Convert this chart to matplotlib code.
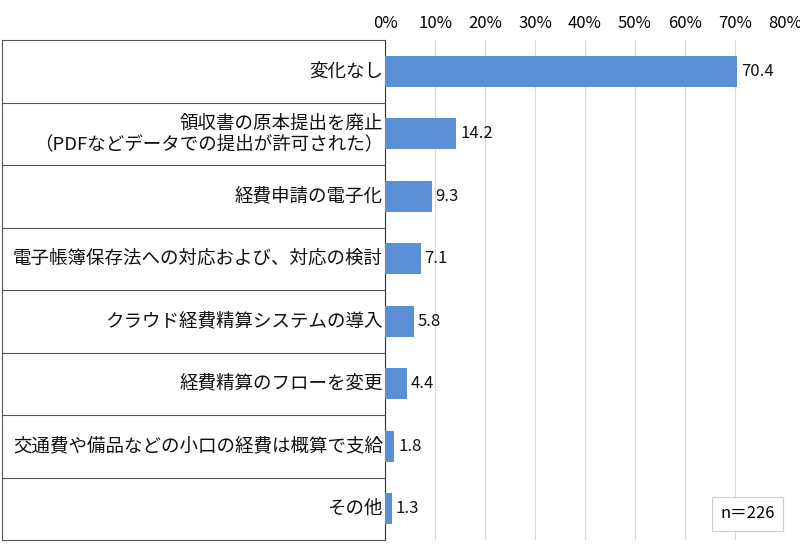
import matplotlib
matplotlib.use("Agg")
import matplotlib.pyplot as plt
from matplotlib.lines import Line2D
from matplotlib.ticker import FuncFormatter

plt.rcParams['font.family'] = ['Noto Sans CJK JP', 'DejaVu Sans']

categories = [
    "変化なし",
    "領収書の原本提出を廃止\n（PDFなどデータでの提出が許可された）",
    "経費申請の電子化",
    "電子帳簿保存法への対応および、対応の検討",
    "クラウド経費精算システムの導入",
    "経費精算のフローを変更",
    "交通費や備品などの小口の経費は概算で支給",
    "その他",
]
values = [70.4, 14.2, 9.3, 7.1, 5.8, 4.4, 1.8, 1.3]
n_label = "n＝226"

fig = plt.figure(figsize=(8, 5.55), dpi=100)
L, R, B, T = 385 / 800, 785 / 800, 1 - 540 / 555, 1 - 40 / 555
ax = fig.add_axes([L, B, R - L, T - B])

ypos = list(range(len(categories)))
ax.barh(ypos, values, height=0.5, color='#5B8FD5', zorder=3)
for y, v in zip(ypos, values):
    ax.text(v + 0.8, y, f"{v:.1f}", va='center', ha='left', fontsize=12, color='#111111')

ax.set_xlim(0, 80)
ax.set_ylim(len(categories) - 0.5, -0.5)
ax.set_xticks(range(0, 81, 10))
ax.xaxis.set_major_formatter(FuncFormatter(lambda x, p: f"{int(x)}%"))
ax.xaxis.tick_top()
ax.tick_params(axis='x', length=0, labelsize=12, pad=6)
ax.set_yticks([])
ax.grid(axis='x', color='#d9d9d9', lw=0.8, zorder=0)
for s in ['top', 'right', 'bottom']:
    ax.spines[s].set_visible(False)
ax.spines['left'].set_color('#333333')

# label column with row separators
for y, lab in zip(ypos, categories):
    ax.text(-0.4, y, lab, ha='right', va='center', fontsize=13.3, linespacing=1.2,
            color='#111111', clip_on=False)
row_h = (T - B) / len(categories)
left_x = 2 / 800
for i in range(len(categories) + 1):
    yy = T - i * row_h
    fig.add_artist(Line2D([left_x, L], [yy, yy], color='#555555', lw=0.8))
fig.add_artist(Line2D([left_x, left_x], [B, T], color='#555555', lw=0.8))

ax.text(0.975, 0.035, n_label, transform=ax.transAxes, ha='right', va='bottom', fontsize=12,
        bbox=dict(boxstyle='square,pad=0.5', fc='white', ec='#cccccc', lw=0.8), zorder=5)

fig.savefig("out.png", dpi=100)
